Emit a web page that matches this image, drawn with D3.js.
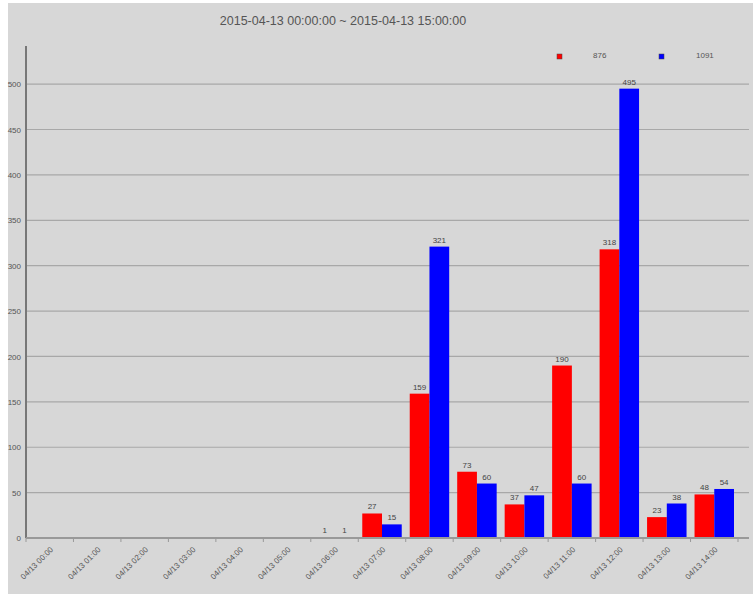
<!DOCTYPE html>
<html>
<head>
<meta charset="utf-8">
<script src="https://cdn.jsdelivr.net/npm/d3@7"></script>
<style>
  body { margin: 0; background: #fff; }
  svg { display: block; font-family: "Liberation Sans", Arial, sans-serif; }
</style>
</head>
<body>
<svg id="chart" width="753" height="594"></svg>
<script>
var hours = ["04/13 00:00", "04/13 01:00", "04/13 02:00", "04/13 03:00", "04/13 04:00",
             "04/13 05:00", "04/13 06:00", "04/13 07:00", "04/13 08:00", "04/13 09:00",
             "04/13 10:00", "04/13 11:00", "04/13 12:00", "04/13 13:00", "04/13 14:00"];
var redValues  = [0, 0, 0, 0, 0, 0, 1, 27, 159, 73, 37, 190, 318, 23, 48];
var blueValues = [0, 0, 0, 0, 0, 0, 1, 15, 321, 60, 47, 60, 495, 38, 54];
var yTicks = [0, 50, 100, 150, 200, 250, 300, 350, 400, 450, 500];
var seriesNames = ["red", "blue"];
var seriesColors = ["#ff0000", "#0000ff"];
var title = "2015-04-13 00:00:00 ~ 2015-04-13 15:00:00";

var svg = d3.select("#chart");
var W = 753, H = 594;
var rect = {x: 26, y: 46, w: 724, h: 492};

svg.append("rect")
    .attr("x", 8).attr("y", 3)
    .attr("width", W - 8).attr("height", H - 3)
    .attr("fill", "#d7d7d7");

var scaleX = d3.scaleBand()
    .domain(hours)
    .range([rect.x, rect.x + 712]);

var scaleY = d3.scaleLinear()
    .domain([0, 542])
    .range([rect.y + rect.h, rect.y]);

var inner = d3.scaleBand()
    .domain(seriesNames)
    .range([4, scaleX.bandwidth() - 4]);

// grid
svg.append("g")
    .selectAll("line")
    .data(yTicks.slice(1))
  .enter().append("line")
    .attr("x1", rect.x).attr("x2", 749)
    .attr("y1", function (d) { return scaleY(d); })
    .attr("y2", function (d) { return scaleY(d); })
    .attr("stroke", "#a8a8a8")
    .attr("stroke-width", 1.2);

// bars
var data = hours.map(function (h, i) {
    return {hour: h, values: [redValues[i], blueValues[i]]};
});

var group = svg.selectAll(".bar")
    .data(data)
  .enter().append("g")
    .attr("class", "bar")
    .attr("transform", function (d) { return "translate(" + scaleX(d.hour) + ",0)"; });

group.selectAll("rect")
    .data(function (d) { return d.values; })
  .enter().append("rect")
    .attr("x", function (v, j) { return inner(seriesNames[j]); })
    .attr("width", inner.bandwidth())
    .attr("y", function (v) { return scaleY(v); })
    .attr("height", function (v) { return scaleY(0) - scaleY(v); })
    .attr("fill", function (v, j) { return seriesColors[j]; });

group.selectAll("text")
    .data(function (d) { return d.values; })
  .enter().append("text")
    .filter(function (v) { return v > 0; })
    .attr("x", function (v, j) { return inner(seriesNames[j]) + inner.bandwidth() / 2; })
    .attr("y", function (v) { return scaleY(v) - 4; })
    .attr("text-anchor", "middle")
    .attr("fill", "#444")
    .style("font-size", "8px")
    .text(function (v) { return v; });

// y axis
var yAxis = svg.append("g")
    .attr("transform", "translate(" + rect.x + ",0)")
    .call(d3.axisLeft(scaleY).tickValues(yTicks).tickSize(0).tickPadding(5));
yAxis.select(".domain").attr("stroke", "#777").attr("stroke-width", 2)
    .attr("d", "M0," + rect.y + "V" + (rect.y + rect.h));
yAxis.selectAll("text").attr("fill", "#555").style("font-size", "8px");

// x axis
var half = scaleX.bandwidth() / 2;
var xAxis = svg.append("g")
    .attr("transform", "translate(0," + (rect.y + rect.h) + ")")
    .call(d3.axisBottom(scaleX).tickSizeOuter(0).tickSizeInner(0));
xAxis.select(".domain").attr("stroke", "#999").attr("stroke-width", 2)
    .attr("d", "M" + rect.x + ",0H749");
xAxis.selectAll(".tick").append("line")
    .attr("x1", -half).attr("x2", -half)
    .attr("y1", 0).attr("y2", 4)
    .attr("stroke", "#999");
svg.append("line")
    .attr("x1", rect.x + 712).attr("x2", rect.x + 712)
    .attr("y1", rect.y + rect.h).attr("y2", rect.y + rect.h + 4)
    .attr("stroke", "#999");
xAxis.selectAll(".tick text")
    .attr("fill", "#555")
    .style("font-size", "8px")
    .attr("text-anchor", "end")
    .attr("y", 0)
    .attr("dy", null)
    .attr("transform", "translate(4,12) rotate(-45)");

// title
svg.append("text")
    .attr("x", 343).attr("y", 25)
    .attr("text-anchor", "middle")
    .attr("fill", "#555")
    .style("font-size", "12.5px")
    .text(title);

// legend
var legendX = [557, 659];
var legendText = [d3.sum(redValues), d3.sum(blueValues)];
var legend = svg.selectAll(".legend")
    .data(seriesNames)
  .enter().append("g")
    .attr("class", "legend")
    .attr("transform", function (d, i) { return "translate(" + legendX[i] + ",54)"; });
legend.append("rect")
    .attr("width", 5).attr("height", 5)
    .attr("fill", function (d, i) { return seriesColors[i]; })
    .attr("stroke", "#444").attr("stroke-width", 0.5);
legend.append("text")
    .attr("x", function (d, i) { return i === 0 ? 36 : 37; })
    .attr("y", 4)
    .attr("fill", "#555")
    .style("font-size", "8px")
    .text(function (d, i) { return legendText[i]; });
</script>
</body>
</html>
